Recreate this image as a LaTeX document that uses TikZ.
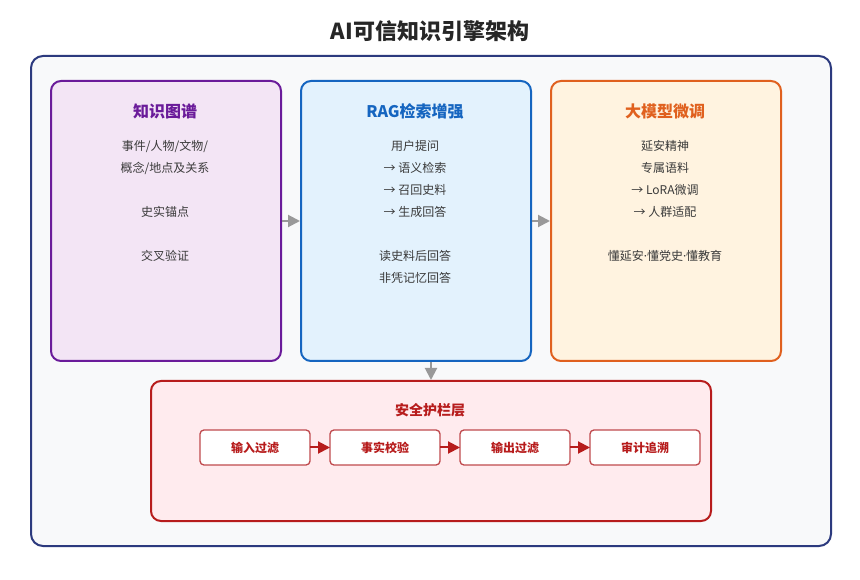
\documentclass[tikz,border=0pt]{standalone}
\usepackage{fontspec}
\setmainfont{Noto Sans CJK SC}
\newfontfamily\latinfont{Noto Sans}
\usetikzlibrary{arrows.meta,positioning}

\definecolor{framenavy}{HTML}{2C3A7E}
\definecolor{framebg}{HTML}{F8F9FA}
\definecolor{kgline}{HTML}{6A1B9A}
\definecolor{kgfill}{HTML}{F3E5F5}
\definecolor{ragline}{HTML}{1565C0}
\definecolor{ragfill}{HTML}{E3F2FD}
\definecolor{ftline}{HTML}{E0601E}
\definecolor{ftfill}{HTML}{FFF3E0}
\definecolor{guardline}{HTML}{B71C1C}
\definecolor{guardfill}{HTML}{FFEBEE}
\definecolor{stepline}{HTML}{C04A4E}
\definecolor{bodygray}{HTML}{3A3A3A}
\definecolor{arrowgray}{HTML}{999999}

\newcommand{\mdot}{{\latinfont ·}}

\begin{document}
\begin{tikzpicture}[x=0.75pt, y=-0.75pt, >={Triangle[length=9pt,width=9pt]},
    frame/.style={draw=framenavy, fill=framebg, line width=1.5pt, rounded corners=9pt,
      minimum width=600pt, minimum height=367.5pt, anchor=north west, inner sep=0pt},
    layer/.style={line width=1.5pt, rounded corners=7.5pt, minimum width=172.5pt,
      minimum height=210pt, anchor=north west, inner sep=0pt},
    layertitle/.style={font=\bfseries\fontsize{12}{14}\selectfont},
    body/.style={font=\fontsize{9}{16.5}\selectfont, align=center, inner sep=0pt,
      text=bodygray, anchor=north},
    stepbox/.style={draw=stepline, fill=white, line width=1pt, rounded corners=3pt,
      minimum width=82.5pt, minimum height=26.25pt, inner sep=0pt, outer sep=0pt,
      font=\bfseries\fontsize{9}{11}\selectfont, text=guardline},
    flow/.style={->, arrowgray, line width=1.5pt},
    guardflow/.style={->, guardline, line width=1.5pt}]

  \useasboundingbox[fill=white] (0,0) rectangle (860,580);

  % Titel
  \node[font=\bfseries\fontsize{16.5}{20}\selectfont, text=black!85] (title) at (430,31) {AI可信知识引擎架构};

  % Rahmen
  \node[frame] (frame) at (30,55) {};

  % Drei Saeulen
  \node[layer, draw=kgline, fill=kgfill] (kg) at (50,80) {};
  \node[layer, draw=ragline, fill=ragfill] (rag) at (300,80) {};
  \node[layer, draw=ftline, fill=ftfill] (ft) at (550,80) {};

  \node[layertitle, text=kgline] (kgtitle) at (165,111) {知识图谱};
  \node[body] (kgtext) at (165,140) {事件/人物/文物/\\概念/地点及关系\\[16.5pt]史实锚点\\[16.5pt]交叉验证};

  \node[layertitle, text=ragline] (ragtitle) at (415,111) {RAG检索增强};
  \node[body] (ragtext) at (415,140) {用户提问\\→ 语义检索\\→ 召回史料\\→ 生成回答\\[16.5pt]读史料后回答\\非凭记忆回答};

  \node[layertitle, text=ftline] (fttitle) at (665,111) {大模型微调};
  \node[body] (fttext) at (665,140) {延安精神\\专属语料\\→ LoRA微调\\→ 人群适配\\[16.5pt]懂延安\mdot 懂党史\mdot 懂教育};

  \draw[flow] (kg.east) -- (rag.west);
  \draw[flow] (rag.east) -- (ft.west);

  % Sicherheitsschicht
  \node[draw=guardline, fill=guardfill, line width=1.5pt, rounded corners=7.5pt,
    minimum width=420pt, minimum height=105pt, anchor=north west, inner sep=0pt] (guard) at (150,380) {};
  \node[font=\bfseries\fontsize{10.5}{13}\selectfont, text=guardline] (guardtitle) at (430,410) {安全护栏层};

  \draw[flow] (rag.south -| guard.north) -- (guard.north);

  \node[stepbox] (input) at (255,447.5) {输入过滤};
  \node[stepbox, right=15pt of input] (check) {事实校验};
  \node[stepbox, right=15pt of check] (output) {输出过滤};
  \node[stepbox, right=15pt of output] (audit) {审计追溯};

  \draw[guardflow] (input) -- (check);
  \draw[guardflow] (check) -- (output);
  \draw[guardflow] (output) -- (audit);
\end{tikzpicture}
\end{document}
